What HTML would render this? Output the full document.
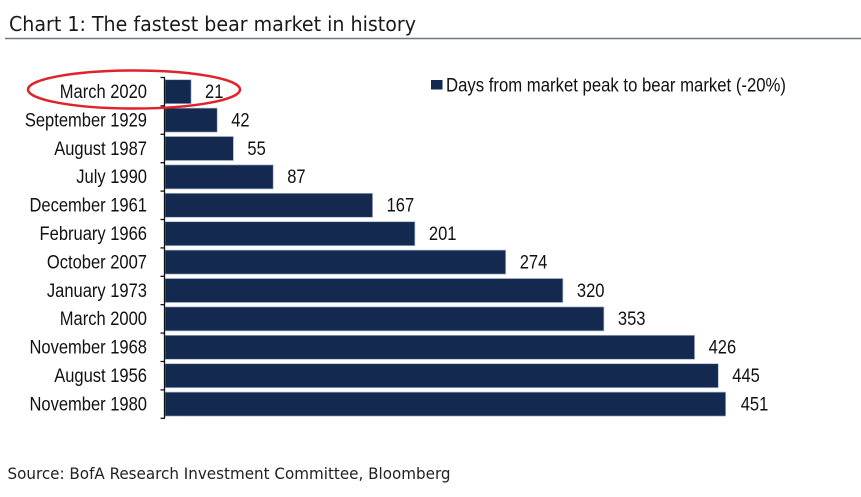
<!DOCTYPE html>
<html><head><meta charset="utf-8"><style>
html,body{margin:0;padding:0;background:#fff;}
svg{display:block;}
</style></head><body>
<svg width="861" height="497" viewBox="0 0 861 497" xmlns="http://www.w3.org/2000/svg">
<rect width="861" height="497" fill="#fff"/>
<text x="9" y="31" font-family="DejaVu Sans Condensed, DejaVu Sans, sans-serif" font-size="20" fill="#1a1a1a" textLength="407" lengthAdjust="spacingAndGlyphs">Chart 1: The fastest bear market in history</text>
<line x1="5" y1="38.5" x2="861" y2="38.5" stroke="#6f7884" stroke-width="1.5"/>

<g fill="#14294f" stroke="#a9b8d2" stroke-width="0.7">
<rect x="165" y="79.7" width="26.1" height="24"/>
<rect x="165" y="108.1" width="52.2" height="24"/>
<rect x="165" y="136.5" width="68.4" height="24"/>
<rect x="165" y="164.9" width="108.2" height="24"/>
<rect x="165" y="193.3" width="207.6" height="24"/>
<rect x="165" y="221.7" width="249.9" height="24"/>
<rect x="165" y="250.1" width="340.7" height="24"/>
<rect x="165" y="278.5" width="397.9" height="24"/>
<rect x="165" y="306.9" width="438.9" height="24"/>
<rect x="165" y="335.3" width="529.6" height="24"/>
<rect x="165" y="363.7" width="553.3" height="24"/>
<rect x="165" y="392.1" width="560.7" height="24"/>
</g>

<g stroke="#111" stroke-width="1.3" fill="none">
<line x1="164.5" y1="77.5" x2="164.5" y2="418.3"/>
<line x1="160.5" y1="77.5" x2="165" y2="77.5"/>
<line x1="160.5" y1="105.9" x2="165" y2="105.9"/>
<line x1="160.5" y1="134.3" x2="165" y2="134.3"/>
<line x1="160.5" y1="162.7" x2="165" y2="162.7"/>
<line x1="160.5" y1="191.1" x2="165" y2="191.1"/>
<line x1="160.5" y1="219.5" x2="165" y2="219.5"/>
<line x1="160.5" y1="247.9" x2="165" y2="247.9"/>
<line x1="160.5" y1="276.3" x2="165" y2="276.3"/>
<line x1="160.5" y1="304.7" x2="165" y2="304.7"/>
<line x1="160.5" y1="333.1" x2="165" y2="333.1"/>
<line x1="160.5" y1="361.5" x2="165" y2="361.5"/>
<line x1="160.5" y1="389.9" x2="165" y2="389.9"/>
<line x1="160.5" y1="418.3" x2="165" y2="418.3"/>
</g>

<g font-family="Liberation Sans, Arial, sans-serif" font-size="19" fill="#111" text-anchor="end">
<text transform="translate(147,98) scale(0.87,1)">March 2020</text>
<text transform="translate(147,126.4) scale(0.87,1)">September 1929</text>
<text transform="translate(147,154.8) scale(0.87,1)">August 1987</text>
<text transform="translate(147,183.2) scale(0.87,1)">July 1990</text>
<text transform="translate(147,211.6) scale(0.87,1)">December 1961</text>
<text transform="translate(147,240) scale(0.87,1)">February 1966</text>
<text transform="translate(147,268.4) scale(0.87,1)">October 2007</text>
<text transform="translate(147,296.8) scale(0.87,1)">January 1973</text>
<text transform="translate(147,325.2) scale(0.87,1)">March 2000</text>
<text transform="translate(147,353.6) scale(0.87,1)">November 1968</text>
<text transform="translate(147,382) scale(0.87,1)">August 1956</text>
<text transform="translate(147,410.4) scale(0.87,1)">November 1980</text>
</g>

<g font-family="Liberation Sans, Arial, sans-serif" font-size="19" fill="#111">
<text transform="translate(205,98) scale(0.87,1)">21</text>
<text transform="translate(231.2,126.4) scale(0.87,1)">42</text>
<text transform="translate(247.4,154.8) scale(0.87,1)">55</text>
<text transform="translate(287.2,183.2) scale(0.87,1)">87</text>
<text transform="translate(386.6,211.6) scale(0.87,1)">167</text>
<text transform="translate(428.9,240) scale(0.87,1)">201</text>
<text transform="translate(519.7,268.4) scale(0.87,1)">274</text>
<text transform="translate(576.9,296.8) scale(0.87,1)">320</text>
<text transform="translate(617.9,325.2) scale(0.87,1)">353</text>
<text transform="translate(708.6,353.6) scale(0.87,1)">426</text>
<text transform="translate(732.3,382) scale(0.87,1)">445</text>
<text transform="translate(740.7,410.4) scale(0.87,1)">451</text>
</g>

<rect x="431" y="80" width="11.5" height="9.5" fill="#14294f"/>
<text x="446" y="91.5" font-family="Liberation Sans, Arial, sans-serif" font-size="19" fill="#111" textLength="340" lengthAdjust="spacingAndGlyphs">Days from market peak to bear market (-20%)</text>

<ellipse cx="134" cy="89.5" rx="106" ry="19" fill="none" stroke="#e0222a" stroke-width="2.5"/>

<text x="7.5" y="479" font-family="DejaVu Sans Condensed, DejaVu Sans, sans-serif" font-size="16" fill="#222" textLength="443" lengthAdjust="spacingAndGlyphs">Source: BofA Research Investment Committee, Bloomberg</text>
</svg>
</body></html>
